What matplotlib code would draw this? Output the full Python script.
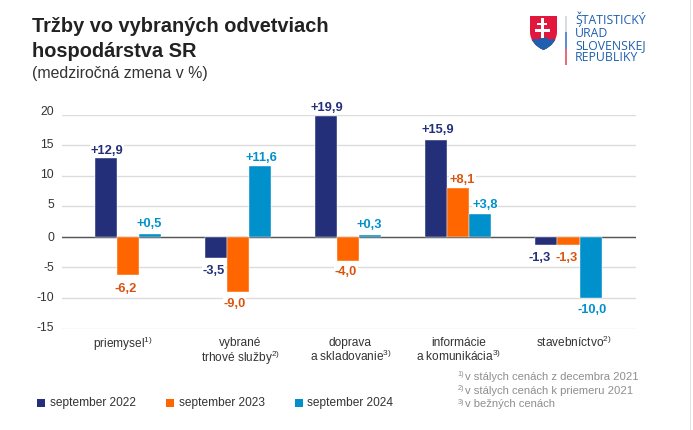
import matplotlib
matplotlib.use('Agg')
import matplotlib.pyplot as plt
from matplotlib.patches import PathPatch, Rectangle, Ellipse
from matplotlib.path import Path
from matplotlib.transforms import ScaledTranslation
import numpy as np

plt.rcParams['font.family'] = ['Liberation Sans', 'DejaVu Sans']
plt.rcParams['mathtext.fontset'] = 'custom'
plt.rcParams['mathtext.rm'] = 'Liberation Sans'
plt.rcParams['mathtext.default'] = 'rm'

categories = ['priemysel$^{1)}$', 'vybrané\ntrhové služby$^{2)}$', 'doprava\na skladovanie$^{3)}$',
              'informácie\na komunikácia$^{3)}$', 'stavebníctvo$^{2)}$']
series_names = ['september 2022', 'september 2023', 'september 2024']
v2022 = [12.9, -3.5, 19.9, 15.9, -1.3]
v2023 = [-6.2, -9.0, -4.0, 8.1, -1.3]
v2024 = [0.5, 11.6, 0.3, 3.8, -10.0]
yticks = [20, 15, 10, 5, 0, -5, -10, -15]
ytick_labels = ['20', '15', '10', '5', '0', '-5', '-10', '-15']
colors = ['#232F78', '#FF6600', '#0090CC']
label_colors = ['#232F78', '#D9540F', '#0090CC']
footnote_marks = ['1)', '2)', '3)']
footnotes = ['v stálych cenách z decembra 2021', 'v stálych cenách k priemeru 2021', 'v bežných cenách']
logo_lines = ['ŠTATISTICKÝ', 'ÚRAD', 'SLOVENSKEJ', 'REPUBLIKY']

# label placement tweaks, in pixels
ytick_shift = [4, 2, 2, 2.5, 0.5, 1, 1, 2]
xtick_shift = [(-5, 2.5), (2, 0), (2, 0), (0, 0), (5, 2.5)]
label_dx = [[0.6, -3, 0, 1.5, -7], [-3, -4, -2.5, 4, -1.5], [-1.3, 0.7, -1.3, 4.5, 1.7]]
label_gap = [[4.7, 7, 5, 6.5, 7], [8, 6, 4.5, 5, 7], [6.5, 5.3, 7, 6, 6]]

W, H = 693, 430
PX = 72/100
fig = plt.figure(figsize=(W/100, H/100), dpi=100, facecolor='white')
def fx(x): return x/W
def fy(y): return 1-y/H

L, R, T, B = 62, 636, 114.9, 328.5
X0, STEP = 128.3, 110.05
ax = fig.add_axes([fx(L), fy(B), (R-L)/W, (B-T)/H])
ax.set_xlim((L-X0)/STEP, (R-X0)/STEP)
ax.set_ylim(-15, 20)
ax.patch.set_alpha(0)
for s in ax.spines.values():
    s.set_visible(False)
ax.set_yticks(yticks)
ax.set_yticklabels(ytick_labels, fontsize=8.7, color='#333333')
ax.tick_params(axis='y', length=0, pad=5.8)
ax.tick_params(axis='x', length=0, pad=6)
ax.grid(axis='y', color='#DCDCDC', lw=1.0)
ax.set_axisbelow(True)
ax.axhline(0, color='#555555', lw=1.0, zorder=1.5)
x = np.arange(len(categories))
ax.set_xticks(x)
ax.set_xticklabels(categories, fontsize=8.6, color='#333333', linespacing=1.0, va='top')
for lab, d in zip(ax.get_yticklabels(), ytick_shift):
    lab.set_transform(lab.get_transform() + ScaledTranslation(0, d*PX/72, fig.dpi_scale_trans))
for lab, (dx, dy) in zip(ax.get_xticklabels(), xtick_shift):
    lab.set_transform(lab.get_transform() + ScaledTranslation(dx*PX/72, dy*PX/72, fig.dpi_scale_trans))

w = 0.2
for i, (vals, c, lc) in enumerate(zip([v2022, v2023, v2024], colors, label_colors)):
    xs = x + (i-1)*w
    ax.bar(xs, vals, width=w, color=c, edgecolor='white', linewidth=0.3, zorder=2)
    for xi, v, dx, gap in zip(xs, vals, label_dx[i], label_gap[i]):
        txt = f'{v:+.1f}'.replace('.', ',')
        ax.annotate(txt, (xi, v), xytext=(dx*PX, gap*PX if v > 0 else -gap*PX), textcoords='offset points',
                    ha='center', va='baseline' if v > 0 else 'top', fontsize=9.3, fontweight='bold',
                    color=lc, zorder=1.8,
                    bbox=dict(boxstyle='square,pad=0.05', fc='white', ec='none'))

fig.text(fx(32), fy(32.3), 'Tržby vo vybraných odvetviach', fontsize=14.4, fontweight='bold', color='#222222', va='baseline')
fig.text(fx(32), fy(56.7), 'hospodárstva SR', fontsize=14.4, fontweight='bold', color='#222222', va='baseline')
fig.text(fx(32), fy(78), '(medziročná zmena v %)', fontsize=11.4, color='#333333', va='baseline')

for px, tx, c, name in zip([37, 166, 294.5], [50, 179, 307], colors, series_names):
    fig.add_artist(Rectangle((fx(px), fy(406.5)), 8/W, 8/H, transform=fig.transFigure, fc=c, ec='none'))
    fig.text(fx(tx), fy(406), name, fontsize=8.55, color='#333333', va='baseline')

for yy, m, t in zip([380, 394, 407], footnote_marks, footnotes):
    fig.text(fx(457.5), fy(yy-3.5), m, fontsize=5.2, color='#8E8E8E', va='baseline')
    fig.text(fx(465), fy(yy), t, fontsize=8.15, color='#8E8E8E', va='baseline')

# frame line at the right edge of the slide
fig.add_artist(Rectangle((fx(690.3), 0), 1/W, 1, transform=fig.transFigure, fc='#E2E2E2', ec='none'))

# logo
def P(a, b): return (fx(a), fy(b))
verts = [P(530, 16), P(557, 16), P(557, 32), P(557, 44), P(543.5, 50), P(530, 44), P(530, 32), P(530, 16)]
codes = [Path.MOVETO, Path.LINETO, Path.LINETO, Path.CURVE3, Path.CURVE3, Path.CURVE3, Path.CURVE3, Path.CLOSEPOLY]
shield = PathPatch(Path(verts, codes), transform=fig.transFigure, fc='#E2173D', ec='none')
fig.add_artist(shield)
for cx, cy, rx, ry in [(535, 45, 6, 6), (543.5, 43.5, 6.5, 6.5), (552, 45, 6, 6), (543.5, 50, 14, 6)]:
    e = Ellipse(P(cx, cy), 2*rx/W, 2*ry/H, transform=fig.transFigure, fc='#1F5FAE', ec='none')
    fig.add_artist(e)
    e.set_clip_path(shield)
for a, b, c_, d in [(541, 18, 3, 19.5), (537, 22.5, 10, 2.6), (535, 29, 15, 2.8)]:
    fig.add_artist(Rectangle(P(a, b+d), c_/W, d/H, transform=fig.transFigure, fc='white', ec='none'))
for y0, y1, c in [(16, 32, '#D5DCE2'), (32, 49, '#5F8BD0'), (49, 65, '#E86B80')]:
    fig.add_artist(Rectangle(P(565.2, y1), 1.4/W, (y1-y0)/H, transform=fig.transFigure, fc=c, ec='none'))
for yy, t in zip([24, 36.7, 49, 61], logo_lines):
    fig.text(fx(575), fy(yy), t, fontsize=8.8, color='#1F5FAE', va='baseline', family='Open Sans')

fig.savefig('out.png', dpi=100, facecolor='white')
